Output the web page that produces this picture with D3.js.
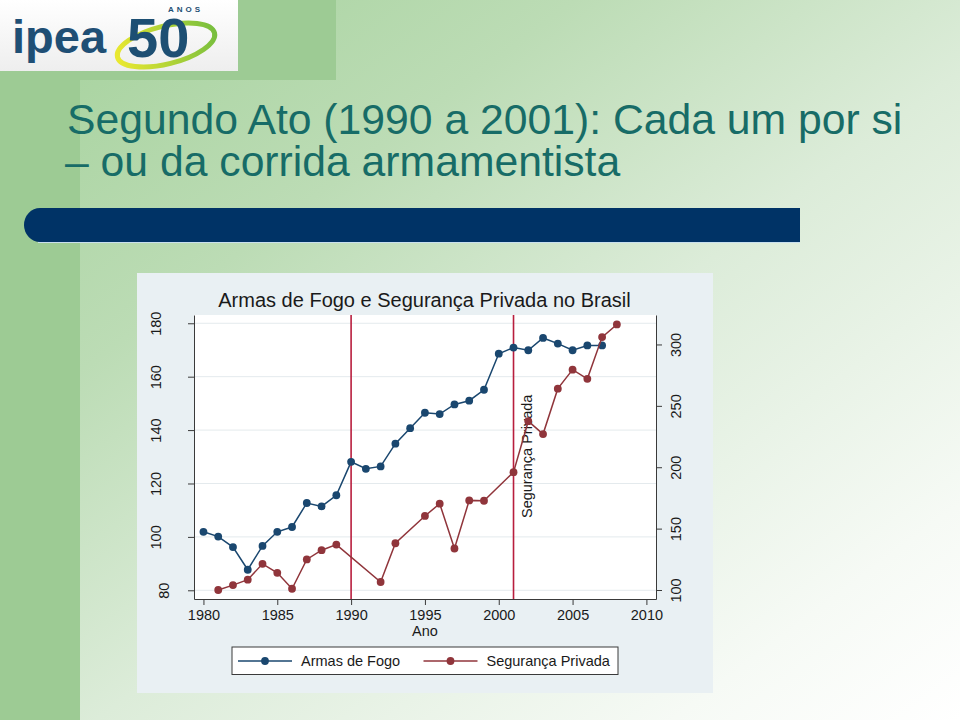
<!DOCTYPE html>
<html>
<head>
<meta charset="utf-8">
<script src="https://cdn.jsdelivr.net/npm/d3@7"></script>
<style>
  html, body { margin: 0; padding: 0; background: #fff; }
  svg { display: block; font-family: "Liberation Sans", Arial, sans-serif; }
</style>
</head>
<body>
<svg id="chart" width="960" height="720"></svg>
<script>
// ---------------- data ----------------
const armasYears = [1980,1981,1982,1983,1984,1985,1986,1987,1988,1989,1990,1991,1992,1993,
                    1994,1995,1996,1997,1998,1999,2000,2001,2002,2003,2004,2005,2006,2007];
const armasValues = [101.9,100.1,96.2,87.7,96.6,101.9,103.7,112.7,111.4,115.6,128.1,125.5,126.4,134.9,
                     140.7,146.5,146.0,149.6,151.0,155.1,168.6,170.9,169.9,174.5,172.4,169.9,171.7,171.7];
const segYears = [1981,1982,1983,1984,1985,1986,1987,1988,1989,1992,1993,1995,1996,1997,1998,1999,
                  2001,2002,2003,2004,2005,2006,2007,2008];
const segValues = [100,104,108.4,121.3,114,101,124.9,132.4,137,106.5,138.1,160.3,170.3,133.8,173,172.7,
                   196,237.5,227,264,279.5,272,306,316.3];
const xTicks = [1980,1985,1990,1995,2000,2005,2010];
const leftTicks = [80,100,120,140,160,180];
const rightTicks = [100,150,200,250,300];
const markerYears = [1990, 2001];
const seriesNames = ["Armas de Fogo", "Segurança Privada"];
const chartTitle = "Armas de Fogo e Segurança Privada no Brasil";
const slideTitle = ["Segundo Ato (1990 a 2001): Cada um por si", "– ou da corrida armamentista"];
const xTitle = "Ano";
const rightTitle = "Segurança Privada";

// ---------------- layout ----------------
const svg = d3.select("#chart");
const W = 960, H = 720;
const plot = { left: 194, right: 656, top: 315, bottom: 599 };
const blue = "#1a476f", red = "#90353b", vline = "#b81e3e";
const font = "'Liberation Sans', Arial, sans-serif";

// background
const defs = svg.append("defs");
const bg = defs.append("linearGradient").attr("id", "bg")
  .attr("x1", 0).attr("y1", 0).attr("x2", 1).attr("y2", 1);
bg.append("stop").attr("offset", 0).attr("stop-color", "#a3d19a");
bg.append("stop").attr("offset", 0.3).attr("stop-color", "#bcdcb5");
bg.append("stop").attr("offset", 0.55).attr("stop-color", "#dcecd9");
bg.append("stop").attr("offset", 0.85).attr("stop-color", "#f6faf5");
bg.append("stop").attr("offset", 1).attr("stop-color", "#ffffff");
svg.append("rect").attr("width", W).attr("height", H).attr("fill", "url(#bg)");
svg.append("rect").attr("x", 0).attr("y", 0).attr("width", 80).attr("height", H).attr("fill", "#9dcb94");
svg.append("rect").attr("x", 0).attr("y", 0).attr("width", 336).attr("height", 80).attr("fill", "#9dcb94");

// logo
const logo = svg.append("g");
const lg = defs.append("linearGradient").attr("id", "logobg").attr("x1", 0).attr("y1", 0).attr("x2", 0).attr("y2", 1);
lg.append("stop").attr("offset", 0).attr("stop-color", "#ffffff");
lg.append("stop").attr("offset", 1).attr("stop-color", "#eeeeee");
logo.append("rect").attr("x", 0).attr("y", 0).attr("width", 238).attr("height", 71).attr("fill", "url(#logobg)");
logo.append("text").attr("x", 12).attr("y", 53).attr("font-family", font).attr("font-weight", "bold")
  .attr("font-size", 47).attr("fill", "#1f4f75").text("ipea");
const sw = defs.append("linearGradient").attr("id", "swoosh").attr("x1", 0).attr("y1", 0).attr("x2", 1).attr("y2", 0);
sw.append("stop").attr("offset", 0).attr("stop-color", "#e9e830");
sw.append("stop").attr("offset", 1).attr("stop-color", "#79bf3e");
logo.append("ellipse").attr("cx", 166).attr("cy", 45).attr("rx", 50).attr("ry", 19)
  .attr("transform", "rotate(-14,166,45)").attr("fill", "none").attr("stroke", "url(#swoosh)").attr("stroke-width", 5);
logo.append("text").attr("x", 127).attr("y", 57).attr("font-family", font).attr("font-weight", "bold")
  .attr("font-size", 56).attr("fill", "#1d4f73").text("50");
logo.append("text").attr("x", 168).attr("y", 12).attr("font-family", font).attr("font-weight", "bold")
  .attr("font-size", 8).attr("letter-spacing", 3).attr("fill", "#1d4f73").text("ANOS");

// slide title
slideTitle.forEach((t, i) => {
  svg.append("text").attr("x", i === 0 ? 67 : 65).attr("y", i === 0 ? 134 : 176)
    .attr("font-family", font).attr("font-size", 42.7).attr("fill", "#176c67").text(t);
});

// navy bar
svg.append("path")
  .attr("d", "M 40 208 L 800 208 L 800 242 L 40 242 A 16 17 0 0 1 40 208 Z")
  .attr("fill", "#003366");
svg.append("line").attr("x1", 38).attr("x2", 800).attr("y1", 242.5).attr("y2", 242.5)
  .attr("stroke", "#c9e0ee").attr("stroke-width", 1);

// chart panel
svg.append("rect").attr("x", 137).attr("y", 273).attr("width", 576).attr("height", 420).attr("fill", "#e9f0f3");
svg.append("rect").attr("x", plot.left).attr("y", plot.top)
  .attr("width", plot.right - plot.left).attr("height", plot.bottom - plot.top).attr("fill", "#ffffff");

// scales
const x = d3.scaleLinear().domain([1979.36, 2010.65]).range([plot.left, plot.right]);
const yL = d3.scaleLinear().domain([76.74, 183.1]).range([plot.bottom, plot.top]);
const yR = d3.scaleLinear().domain([92.67, 324.0]).range([plot.bottom, plot.top]);

// gridlines
svg.append("g").selectAll("line").data(leftTicks).join("line")
  .attr("x1", plot.left).attr("x2", plot.right)
  .attr("y1", d => yL(d)).attr("y2", d => yL(d))
  .attr("stroke", "#e4eaed").attr("stroke-width", 1);

// axes
const axisColor = "#3a3a3a";
function styleAxis(g) {
  g.selectAll("path.domain").attr("stroke", axisColor).attr("stroke-width", 1);
  g.selectAll(".tick line").attr("stroke", axisColor).attr("stroke-width", 1);
  g.selectAll("text").attr("font-family", font).attr("font-size", 14.5).attr("fill", "#1a1a1a");
}
const gx = svg.append("g").attr("transform", `translate(0,${plot.bottom})`)
  .call(d3.axisBottom(x).tickValues(xTicks).tickFormat(d3.format("d")).tickSize(6).tickSizeOuter(0));
styleAxis(gx);
gx.selectAll(".tick text").attr("y", 21).attr("dy", 0);

const gl = svg.append("g").attr("transform", `translate(${plot.left},0)`)
  .call(d3.axisLeft(yL).tickValues(leftTicks).tickFormat(d3.format("d")).tickSize(6).tickSizeOuter(0));
styleAxis(gl);
gl.selectAll(".tick text").each(function() {
  const t = d3.select(this);
  const w = this.getComputedTextLength();
  t.attr("x", 0).attr("y", 0).attr("dy", 0).attr("text-anchor", "middle")
   .attr("transform", `translate(${-(9 + w)},0) rotate(-90)`);
});

const gr = svg.append("g").attr("transform", `translate(${plot.right},0)`)
  .call(d3.axisRight(yR).tickValues(rightTicks).tickFormat(d3.format("d")).tickSize(6).tickSizeOuter(0));
styleAxis(gr);
gr.selectAll(".tick text").attr("x", 0).attr("y", 0).attr("dy", 0).attr("text-anchor", "middle")
  .attr("transform", "translate(25,0) rotate(-90)");

// titles
svg.append("text").attr("x", 424.5).attr("y", 307).attr("text-anchor", "middle")
  .attr("font-family", font).attr("font-size", 20).attr("fill", "#1a1a1a").text(chartTitle);
svg.append("text").attr("x", x(1995)).attr("y", 636).attr("text-anchor", "middle")
  .attr("font-family", font).attr("font-size", 14.5).attr("fill", "#1a1a1a").text(xTitle);

// vertical reference lines
svg.append("g").selectAll("line").data(markerYears).join("line")
  .attr("x1", d => x(d)).attr("x2", d => x(d))
  .attr("y1", plot.top).attr("y2", plot.bottom)
  .attr("stroke", vline).attr("stroke-width", 1.6);

// right axis title (placed inside plot, as in the original)
svg.append("text").attr("transform", `translate(531.5,518) rotate(-90)`)
  .attr("font-family", font).attr("font-size", 14.5).attr("fill", "#1a1a1a").text(rightTitle);

// series
const armas = armasYears.map((yr, i) => ({ x: yr, y: armasValues[i] }));
const seg = segYears.map((yr, i) => ({ x: yr, y: segValues[i] }));
function drawSeries(data, yScale, color) {
  const g = svg.append("g");
  g.append("path").datum(data)
    .attr("d", d3.line().x(d => x(d.x)).y(d => yScale(d.y)))
    .attr("fill", "none").attr("stroke", color).attr("stroke-width", 1.5);
  g.selectAll("circle").data(data).join("circle")
    .attr("cx", d => x(d.x)).attr("cy", d => yScale(d.y)).attr("r", 3.9).attr("fill", color);
}
drawSeries(armas, yL, blue);
drawSeries(seg, yR, red);

// legend
const leg = svg.append("g");
leg.append("rect").attr("x", 232).attr("y", 647).attr("width", 386).attr("height", 27.5)
  .attr("fill", "#ffffff").attr("stroke", "#3a3a3a").attr("stroke-width", 1);
const legItems = [
  { name: seriesNames[0], color: blue, x0: 238 },
  { name: seriesNames[1], color: red, x0: 423.5 }
];
legItems.forEach(it => {
  leg.append("line").attr("x1", it.x0).attr("x2", it.x0 + 54).attr("y1", 661).attr("y2", 661)
    .attr("stroke", it.color).attr("stroke-width", 1.5);
  leg.append("circle").attr("cx", it.x0 + 27).attr("cy", 661).attr("r", 3.9).attr("fill", it.color);
  leg.append("text").attr("x", it.x0 + 63).attr("y", 666).attr("font-family", font)
    .attr("font-size", 14.5).attr("fill", "#1a1a1a").text(it.name);
});
</script>
</body>
</html>
